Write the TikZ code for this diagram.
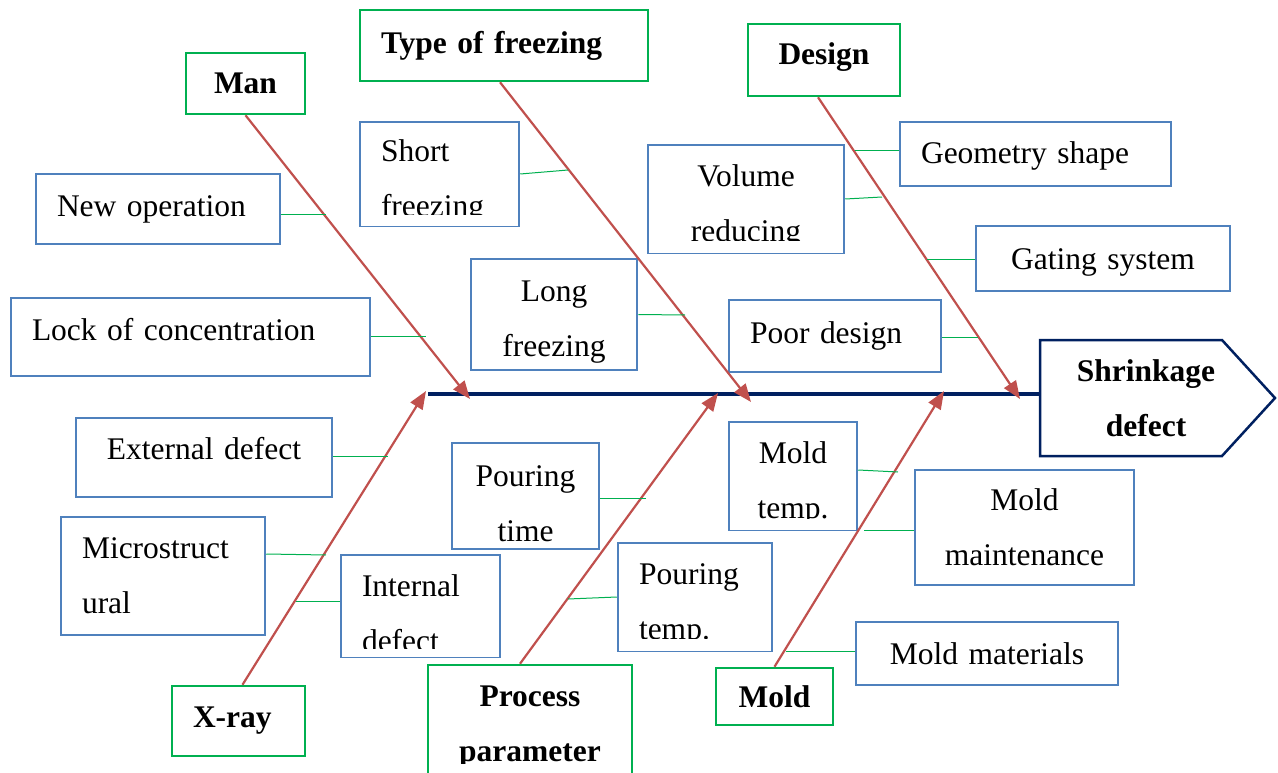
\documentclass[tikz,border=0pt]{standalone}
\usepackage{fontspec}
\setmainfont{Liberation Serif}
\usetikzlibrary{arrows.meta}

\definecolor{causeblue}{HTML}{4F81BD}
\definecolor{maingreen}{HTML}{00B050}
\definecolor{bonered}{HTML}{C0504D}
\definecolor{spinenavy}{HTML}{002060}
\newcommand\boxfont{\fontsize{31.5}{55}\selectfont}
% white strip over the lower part of a box, the text there looks cut off
\newcommand\cutbottom[2]{\fill[white] ([shift={(2,-1.5)}]#1.south west) rectangle ([shift={(-2,-#2)}]#1.south east);}

\begin{document}
\begin{tikzpicture}[x=1pt, y=-1pt,
        cause/.style={draw=causeblue, line width=2.5pt, inner xsep=21pt, inner ysep=0pt, font=\boxfont},
        main/.style={draw=maingreen, line width=2.5pt, inner xsep=21pt, inner ysep=0pt, font=\boxfont\bfseries},
        bone/.style={draw=bonered, line width=2.2pt, -{Triangle[length=18pt, width=14pt]}},
        twig/.style={draw=maingreen, line width=1pt}]
    \useasboundingbox (0,0) rectangle (1278,773);

    % spine and head of the fish
    \coordinate (tail) at (428,394);
    \coordinate (neck) at (1040,394);
    \draw[draw=spinenavy, line width=4pt] (tail) -- (neck);
    \draw[draw=spinenavy, line width=2.5pt] (1040,340) -- (1222,340) -- (1275,398) -- (1222,456) -- (1040,456) -- cycle;
    \node[font=\boxfont\bfseries, align=center] (head) at (1146,398) {Shrinkage\\defect};

    % main causes
    \node[main, align=center, text width=77pt, minimum height=61pt] (man) at (245.5,83.5) {Man};
    \node[main, align=left, text width=246pt, minimum height=71pt] (freeze) at (504,45.5) {Type of freezing\rule[-4pt]{0pt}{4pt}};
    \node[main, align=center, text width=110pt, minimum height=72pt] (design) at (824,60) {Design\rule[-12pt]{0pt}{12pt}};
    \node[main, align=left, text width=91pt, minimum height=70pt] (xray) at (238.5,721) {X-ray};
    \node[main, align=center, text width=162pt, minimum height=125pt] (process) at (530,727.5) {Process\\parameter};
    \node[main, align=center, text width=75pt, minimum height=57pt] (mold) at (774.5,696.5) {Mold};

    % sub causes (the rules only move the text up or down in its box)
    \node[cause, align=left, text width=202pt, minimum height=70pt] (newop) at (158,209) {New operation};
    \node[cause, align=left, text width=317pt, minimum height=78pt] (lock) at (190.5,337) {Lock of concentration\rule[-16pt]{0pt}{16pt}};
    \node[cause, align=left, text width=117pt, minimum height=104pt] (short) at (439.5,174) {\rule{0pt}{36pt}Short\\freezing};
    \node[cause, align=center, text width=124pt, minimum height=111pt] (long) at (554,314.5) {\rule{0pt}{36pt}Long\\freezing};
    \node[cause, align=center, text width=154pt, minimum height=108pt] (volume) at (746,199) {\rule{0pt}{36pt}Volume\\reducing};
    \node[cause, align=left, text width=229pt, minimum height=64pt] (geometry) at (1035.5,154) {\rule{0pt}{26pt}Geometry shape};
    \node[cause, align=center, text width=212pt, minimum height=65pt] (gating) at (1103,258.5) {\rule{0pt}{28pt}Gating system};
    \node[cause, align=left, text width=170pt, minimum height=72pt] (poor) at (835,336) {Poor design};
    \node[cause, align=center, text width=214pt, minimum height=79pt] (external) at (204,457.5) {External defect\rule[-18pt]{0pt}{18pt}};
    \node[cause, align=left, text width=162pt, minimum height=118pt] (micro) at (163,576) {Microstruct\\ural};
    \node[cause, align=left, text width=117pt, minimum height=102pt] (internal) at (420.5,606) {\rule{0pt}{36pt}Internal\\defect};
    \node[cause, align=center, text width=105pt, minimum height=106pt] (ptime) at (525.5,496) {\rule{0pt}{36pt}Pouring\\time};
    \node[cause, align=left, text width=112pt, minimum height=108pt] (ptemp) at (695,597) {\rule{0pt}{36pt}Pouring\\temp.};
    \node[cause, align=center, text width=86pt, minimum height=108pt] (mtemp) at (793,476) {\rule{0pt}{36pt}Mold\\temp.};
    \node[cause, align=center, text width=177pt, minimum height=115pt] (maint) at (1024.5,527.5) {Mold\\maintenance};
    \node[cause, align=center, text width=220pt, minimum height=63pt] (material) at (987,653.5) {Mold materials};

    \cutbottom{short}{12}
    \cutbottom{volume}{13}
    \cutbottom{internal}{9}
    \cutbottom{ptemp}{13}
    \cutbottom{mtemp}{12}
    \cutbottom{process}{27}

    % bones, ending on the spine
    \coordinate (manend) at (470,399);
    \coordinate (freezeend) at (751,402);
    \coordinate (designend) at (1020,399);
    \coordinate (xrayend) at (426,391);
    \coordinate (processend) at (718,393);
    \coordinate (moldend) at (944,391);
    \draw[bone] (man.south) -- (manend);
    \draw[bone] ([xshift=-4pt]freeze.south) -- (freezeend);
    \draw[bone] ([xshift=-6pt]design.south) -- (designend);
    \draw[bone] ([xshift=4pt]xray.north) -- (xrayend);
    \draw[bone] ([xshift=-10pt]process.north) -- (processend);
    \draw[bone] (mold.north) -- (moldend);

    % twigs from the sub causes to their bone
    \coordinate (man1) at (326,215);
    \coordinate (man2) at (426,336);
    \coordinate (freeze1) at (568,170);
    \coordinate (freeze2) at (685,315);
    \coordinate (design1) at (855,151);
    \coordinate (design2) at (882,197);
    \coordinate (design3) at (927,259);
    \coordinate (design4) at (978,337);
    \coordinate (xray1) at (388,456);
    \coordinate (xray2) at (326,555);
    \coordinate (xray3) at (296,601);
    \coordinate (process1) at (646,498);
    \coordinate (process2) at (568,599);
    \coordinate (mold1) at (898,472);
    \coordinate (mold2) at (864,530);
    \coordinate (mold3) at (786,651);
    \draw[twig] (newop.east |- man1) -- (man1);
    \draw[twig] (lock.east |- man2) -- (man2);
    \draw[twig] (short.east) -- (freeze1);
    \draw[twig] (long.east) -- (freeze2);
    \draw[twig] (geometry.west |- design1) -- (design1);
    \draw[twig] (volume.east) -- (design2);
    \draw[twig] (gating.west |- design3) -- (design3);
    \draw[twig] (poor.east |- design4) -- (design4);
    \draw[twig] (external.east |- xray1) -- (xray1);
    \draw[twig] ([yshift=22pt]micro.east) -- (xray2);
    \draw[twig] (internal.west |- xray3) -- (xray3);
    \draw[twig] (ptime.east |- process1) -- (process1);
    \draw[twig] (ptemp.west) -- (process2);
    \draw[twig] ([yshift=6pt]mtemp.east) -- (mold1);
    \draw[twig] (maint.west |- mold2) -- (mold2);
    \draw[twig] (material.west |- mold3) -- (mold3);
\end{tikzpicture}
\end{document}
